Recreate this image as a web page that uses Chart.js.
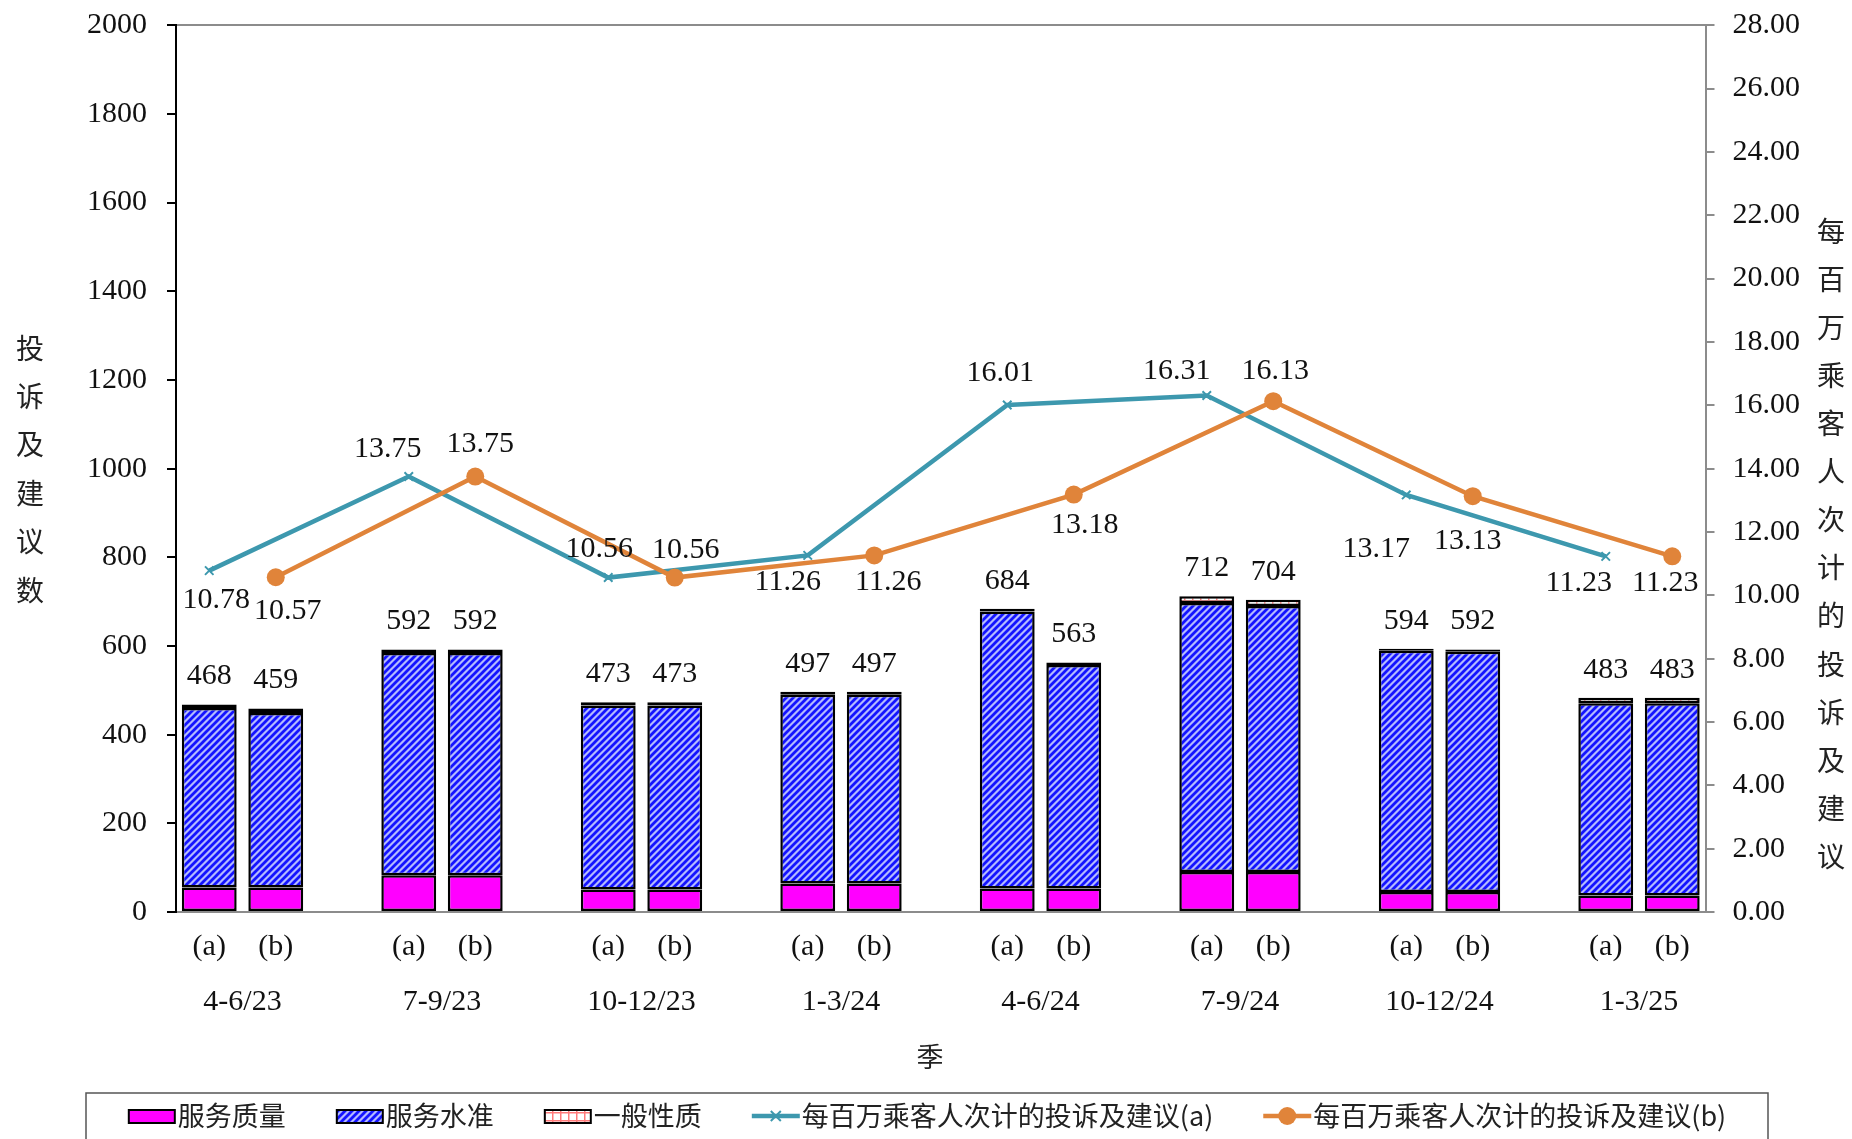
<!DOCTYPE html>
<html>
<head>
<meta charset="utf-8">
<script src="https://cdn.jsdelivr.net/npm/chart.js@4.4.1/dist/chart.umd.min.js"></script>
<style>
  html, body { margin: 0; padding: 0; background: #fff; }
  #wrap { width: 1852px; height: 1139px; position: relative; }
</style>
</head>
<body>
<div id="wrap"><canvas id="complaintsChart"></canvas></div>
<script>
// quarters and the two bars shown for each of them
const quarters = ['4-6/23', '7-9/23', '10-12/23', '1-3/24', '4-6/24', '7-9/24', '10-12/24', '1-3/25'];
const barTags = ['(a)', '(b)'];

// bar totals (printed above each bar)
const totalA = [468, 592, 473, 497, 684, 712, 594, 483];
const totalB = [459, 592, 473, 497, 563, 704, 592, 483];

// stacked parts of the bars
const qualityA = [55, 83, 51, 64, 53, 90, 45, 37];
const qualityB = [55, 83, 51, 64, 53, 90, 45, 37];
const standardA = [405, 501, 415, 426, 625, 607, 544, 434];
const standardB = [394, 501, 415, 426, 504, 600, 542, 434];
const generalA = [8, 8, 7, 7, 6, 15, 5, 12];
const generalB = [10, 8, 7, 7, 6, 14, 5, 12];

// complaints per million passenger trips
const rateA = [10.78, 13.75, 10.56, 11.26, 16.01, 16.31, 13.17, 11.23];
const rateB = [10.57, 13.75, 10.56, 11.26, 13.18, 16.13, 13.13, 11.23];

// series names
const seriesNames = ['服务质量', '服务水准', '一般性质', '每百万乘客人次计的投诉及建议(a)', '每百万乘客人次计的投诉及建议(b)'];

// where the rate labels sit relative to their point (px)
const labelOffsetA = [[7, 30], [-21, -27], [-9, -28], [-20, 27], [-7, -32], [-30, -24], [-30, 54], [-27, 27]];
const labelOffsetB = [[12, 34], [5, -32], [11, -27], [14, 27], [11, 31], [2, -30], [-5, 45], [-7, 27]];

const serif = '"Liberation Serif", "Times New Roman", serif';
const cjk = '"Noto Sans CJK SC", "Noto Sans", sans-serif';
const tealColor = '#3d98ae';
const orangeColor = '#e0843a';

// one slot for (a), one for (b), and an empty slot between quarters
function toSlots(aVals, bVals) {
    const out = [];
    quarters.forEach((q, i) => {
        out.push(aVals ? aVals[i] : null);
        out.push(bVals ? bVals[i] : null);
        if (i < quarters.length - 1) out.push(null);
    });
    return out;
}
const slotLabels = toSlots(quarters.map(() => barTags[0]), quarters.map(() => barTags[1])).map(v => v || '');

// patterns for the bar fills
function hatchPattern() {
    const c = document.createElement('canvas');
    c.width = 7; c.height = 7;
    const g = c.getContext('2d');
    g.fillStyle = '#b3b9ff';
    g.fillRect(0, 0, 7, 7);
    g.strokeStyle = '#1414ff';
    g.lineWidth = 2.8;
    g.beginPath();
    g.moveTo(-1, 8); g.lineTo(8, -1);
    g.moveTo(-4, 4); g.lineTo(4, -4);
    g.moveTo(3, 11); g.lineTo(11, 3);
    g.stroke();
    return g.createPattern(c, 'repeat');
}
function gridPattern() {
    const c = document.createElement('canvas');
    c.width = 8; c.height = 8;
    const g = c.getContext('2d');
    g.fillStyle = '#ffffff';
    g.fillRect(0, 0, 8, 8);
    g.fillStyle = '#ff7a7a';
    g.fillRect(0, 0, 1.5, 8);
    g.fillRect(0, 0, 8, 1.5);
    return g.createPattern(c, 'repeat');
}
const blueHatch = hatchPattern();
const pinkGrid = gridPattern();

// totals above the bars
const totalLabels = {
    id: 'totalLabels',
    afterDatasetsDraw(chart) {
        const ctx = chart.ctx;
        const xs = chart.scales.x, ys = chart.scales.y;
        ctx.save();
        ctx.font = '30px ' + serif;
        ctx.fillStyle = '#111';
        ctx.textAlign = 'center';
        ctx.textBaseline = 'middle';
        toSlots(totalA, totalB).forEach((v, i) => {
            if (v === null) return;
            ctx.fillText(String(v), xs.getPixelForValue(i), ys.getPixelForValue(v) - 28);
        });
        ctx.restore();
    }
};

// rate values next to the line points
const rateLabels = {
    id: 'rateLabels',
    afterDatasetsDraw(chart) {
        const ctx = chart.ctx;
        const xs = chart.scales.x, ys = chart.scales.y1;
        ctx.save();
        ctx.font = '30px ' + serif;
        ctx.fillStyle = '#111';
        ctx.textAlign = 'center';
        ctx.textBaseline = 'middle';
        rateA.forEach((v, i) => {
            const o = labelOffsetA[i];
            ctx.fillText(v.toFixed(2), xs.getPixelForValue(i * 3) + o[0], ys.getPixelForValue(v) + o[1]);
        });
        rateB.forEach((v, i) => {
            const o = labelOffsetB[i];
            ctx.fillText(v.toFixed(2), xs.getPixelForValue(i * 3 + 1) + o[0], ys.getPixelForValue(v) + o[1]);
        });
        ctx.restore();
    }
};

// axis titles: stacked vertical ones and the category title
const axisTitles = {
    id: 'axisTitles',
    afterDraw(chart) {
        const ctx = chart.ctx;
        ctx.save();
        ctx.fillStyle = '#222';
        ctx.textAlign = 'center';
        ctx.textBaseline = 'middle';
        ctx.font = '28px ' + cjk;
        Array.from('投诉及建议数').forEach((ch, i) => ctx.fillText(ch, 30, 348 + i * 48.4));
        Array.from('每百万乘客人次计的投诉及建议').forEach((ch, i) => ctx.fillText(ch, 1831, 231 + i * 48.1));
        ctx.font = '27px ' + cjk;
        ctx.fillText('季', 930, 1057);
        ctx.restore();
    }
};

// boxed legend at the bottom
const boxLegend = {
    id: 'boxLegend',
    afterDraw(chart) {
        const ctx = chart.ctx;
        ctx.save();
        ctx.strokeStyle = '#555';
        ctx.lineWidth = 1.5;
        ctx.strokeRect(86, 1093, 1682, 80);
        ctx.font = '27px ' + cjk;
        ctx.textBaseline = 'middle';
        const keyW = 48, gap = 2, itemGap = 50, y = 1116;
        const widths = seriesNames.map(n => keyW + gap + ctx.measureText(n).width);
        const total = widths.reduce((s, w) => s + w, 0) + itemGap * (widths.length - 1);
        let x = 927 - total / 2;
        const fills = ['#ff00ff', blueHatch, pinkGrid];
        seriesNames.forEach((name, i) => {
            if (i < 3) {
                ctx.fillStyle = fills[i];
                ctx.fillRect(x + 1, y - 6, keyW - 2, 13);
                ctx.strokeStyle = '#000';
                ctx.lineWidth = 2;
                ctx.strokeRect(x + 1, y - 6, keyW - 2, 13);
            } else {
                const col = i === 3 ? tealColor : orangeColor;
                ctx.strokeStyle = col;
                ctx.lineWidth = 4.5;
                ctx.beginPath();
                ctx.moveTo(x, y); ctx.lineTo(x + keyW, y);
                ctx.stroke();
                if (i === 3) {
                    ctx.lineWidth = 2;
                    ctx.beginPath();
                    ctx.moveTo(x + keyW / 2 - 5, y - 5); ctx.lineTo(x + keyW / 2 + 5, y + 5);
                    ctx.moveTo(x + keyW / 2 - 5, y + 5); ctx.lineTo(x + keyW / 2 + 5, y - 5);
                    ctx.stroke();
                } else {
                    ctx.fillStyle = col;
                    ctx.beginPath();
                    ctx.arc(x + keyW / 2, y, 9, 0, Math.PI * 2);
                    ctx.fill();
                }
            }
            ctx.fillStyle = '#222';
            ctx.textAlign = 'left';
            ctx.fillText(name, x + keyW + gap, y);
            x += widths[i] + itemGap;
        });
        ctx.restore();
    }
};

const barBase = {
    type: 'bar',
    yAxisID: 'y',
    xAxisID: 'x',
    borderColor: '#000',
    borderWidth: 2.5,
    borderSkipped: false,
    barPercentage: 0.825,
    categoryPercentage: 1.0,
    order: 2
};

const chartData = {
    labels: slotLabels,
    datasets: [
        Object.assign({}, barBase, { label: seriesNames[0], data: toSlots(qualityA, qualityB), backgroundColor: '#ff00ff' }),
        Object.assign({}, barBase, { label: seriesNames[1], data: toSlots(standardA, standardB), backgroundColor: blueHatch }),
        Object.assign({}, barBase, { label: seriesNames[2], data: toSlots(generalA, generalB), backgroundColor: pinkGrid }),
        {
            type: 'line',
            label: seriesNames[3],
            data: toSlots(rateA, null),
            yAxisID: 'y1',
            xAxisID: 'x',
            borderColor: tealColor,
            backgroundColor: tealColor,
            borderWidth: 4.5,
            pointStyle: 'crossRot',
            pointRadius: 6,
            pointBorderWidth: 2,
            spanGaps: true,
            tension: 0,
            order: 1
        },
        {
            type: 'line',
            label: seriesNames[4],
            data: toSlots(null, rateB),
            yAxisID: 'y1',
            xAxisID: 'x',
            borderColor: orangeColor,
            backgroundColor: orangeColor,
            borderWidth: 4.5,
            pointStyle: 'circle',
            pointRadius: 9,
            pointBorderWidth: 0,
            spanGaps: true,
            tension: 0,
            order: 0
        }
    ]
};

const ctx = document.getElementById('complaintsChart').getContext('2d');
new Chart(ctx, {
    type: 'bar',
    data: chartData,
    plugins: [totalLabels, rateLabels, axisTitles, boxLegend],
    options: {
        responsive: true,
        maintainAspectRatio: false,
        animation: false,
        layout: { padding: { left: 67, right: 34, top: 0, bottom: 117 } },
        plugins: {
            legend: { display: false },
            tooltip: { enabled: false }
        },
        scales: {
            x: {
                stacked: true,
                grid: { display: false, drawTicks: false },
                border: { display: true, color: '#8c8c8c', width: 2 },
                ticks: {
                    autoSkip: false,
                    maxRotation: 0,
                    padding: 17,
                    color: '#111',
                    font: { family: serif, size: 30 }
                }
            },
            x2: {
                type: 'linear',
                position: 'bottom',
                offset: false,
                min: -0.5,
                max: 22.5,
                grid: { display: false, drawTicks: false },
                border: { display: false },
                afterBuildTicks: axis => {
                    axis.ticks = quarters.map((q, i) => ({ value: i * 3 + 0.5 }));
                },
                ticks: {
                    autoSkip: false,
                    maxRotation: 0,
                    padding: 2,
                    color: '#111',
                    font: { family: serif, size: 30 },
                    callback: (v, i) => quarters[i]
                }
            },
            y: {
                stacked: true,
                position: 'left',
                min: 0,
                max: 2000,
                ticks: {
                    stepSize: 200,
                    padding: 20,
                    color: '#111',
                    font: { family: serif, size: 30, lineHeight: 0.35 },
                    callback: v => String(v)
                },
                grid: {
                    color: c => (c.tick && c.tick.value === 2000 ? '#8c8c8c' : 'transparent'),
                    lineWidth: 2,
                    tickColor: '#000',
                    tickLength: 9
                },
                border: { display: true, color: '#000', width: 2 }
            },
            y1: {
                position: 'right',
                min: 0,
                max: 28,
                ticks: {
                    stepSize: 2,
                    padding: 18,
                    color: '#111',
                    font: { family: serif, size: 30, lineHeight: 0.35 },
                    callback: v => Number(v).toFixed(2)
                },
                grid: {
                    drawOnChartArea: false,
                    color: '#8c8c8c',
                    tickColor: '#8c8c8c',
                    lineWidth: 2,
                    tickLength: 9
                },
                border: { display: true, color: '#8c8c8c', width: 2 }
            }
        }
    }
});
</script>
</body>
</html>
